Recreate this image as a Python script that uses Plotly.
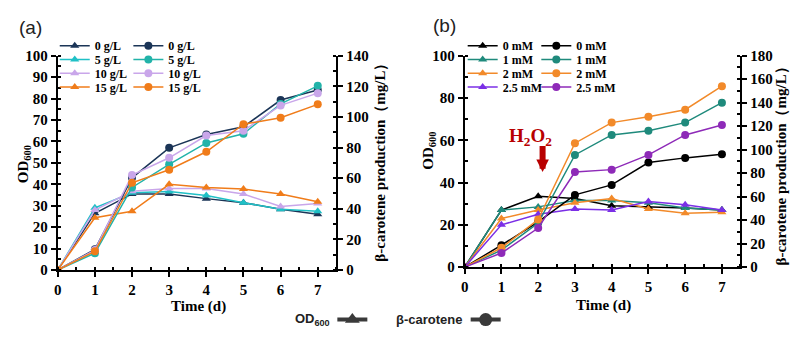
import plotly.graph_objects as go

days = [0, 1, 2, 3, 4, 5, 6, 7]

# Panel (a)
labels_a = ["0 g/L", "5 g/L", "10 g/L", "15 g/L"]
od_a_0 = [0, 26.5, 35.5, 35.5, 33.3, 31.4, 28.4, 26]
od_a_5 = [0, 29, 36, 36.6, 34.8, 31.4, 28.4, 27.4]
od_a_10 = [0, 28, 36.7, 38, 38, 35.5, 29.6, 31]
od_a_15 = [0, 24.4, 27.4, 40, 38.5, 37.8, 35.5, 31.8]
bc_a_0 = [0, 13.5, 60.2, 79.8, 88.5, 93.5, 111, 117.5]
bc_a_5 = [0, 11, 53.9, 69, 83, 89, 108.5, 120.3]
bc_a_10 = [0, 13, 62, 73.3, 87.8, 91, 107.5, 115.5]
bc_a_15 = [0, 12.2, 57, 65.5, 77.2, 95.2, 99.4, 108.2]

# Panel (b)
labels_b = ["0 mM", "1 mM", "2 mM", "2.5 mM"]
od_b_0 = [0, 27, 33.5, 32.5, 29, 28.5, 28, 27]
od_b_1 = [0, 27, 28.5, 31.5, 31.5, 30.5, 28, 27]
od_b_2 = [0, 23, 27, 30.5, 32.5, 27.5, 25.5, 26]
od_b_25 = [0, 20, 25, 27.5, 27, 31, 29.5, 27]
bc_b_0 = [0, 18.7, 38.5, 61.5, 70, 89, 93, 96]
bc_b_1 = [0, 14.5, 37.5, 95.5, 112.5, 116, 123, 140]
bc_b_2 = [0, 16.5, 40.5, 105.5, 123, 128, 134, 154]
bc_b_25 = [0, 12, 33.3, 81, 83, 95.5, 112.5, 121]

# Tick values / labels
ticks_x = [0, 1, 2, 3, 4, 5, 6, 7]
ticks_od_a = [0, 10, 20, 30, 40, 50, 60, 70, 80, 90, 100]
ticks_bc_a = [0, 20, 40, 60, 80, 100, 120, 140]
ticks_od_b = [0, 20, 40, 60, 80, 100]
ticks_bc_b = [0, 20, 40, 60, 80, 100, 120, 140, 160, 180]

cols_a_tri = ["#1b3557", "#1fc0c6", "#c9a6ea", "#f07c1a"]
cols_a_cir = ["#1b3557", "#22b3a9", "#c9a6ea", "#f07c1a"]
cols_b_tri = ["#000000", "#1f8a7c", "#f28a2a", "#7b2fe6"]
cols_b_cir = ["#000000", "#1f8a7c", "#f28a2a", "#8e2ab8"]

SERIF = "Liberation Serif"
SANS = "Liberation Sans"
W, H = 797, 339

od_a = [od_a_0, od_a_5, od_a_10, od_a_15]
bc_a = [bc_a_0, bc_a_5, bc_a_10, bc_a_15]
od_b = [od_b_0, od_b_1, od_b_2, od_b_25]
bc_b = [bc_b_0, bc_b_1, bc_b_2, bc_b_25]

fig = go.Figure()


def lkey(k):
    return "legend" if k == 1 else f"legend{k}"


row_y = [39.5, 54, 68.5, 83]
legend_cols = [51, 125, 461, 535]  # pixel x of legend boxes

legends = {}
k = 1
groups = [
    (labels_a, od_a, cols_a_tri, "triangle-up", "x", "y"),
    (labels_a, bc_a, cols_a_cir, "circle", "x", "y2"),
    (labels_b, od_b, cols_b_tri, "triangle-up", "x2", "y3"),
    (labels_b, bc_b, cols_b_cir, "circle", "x2", "y4"),
]
for gi, (labs, series, cols, sym, xa, ya) in enumerate(groups):
    for i in range(4):
        key = lkey(k)
        fig.add_trace(go.Scatter(
            x=days, y=series[i], name=labs[i], mode="lines+markers",
            line=dict(color=cols[i], width=1.5),
            marker=dict(symbol=sym, size=8, color=cols[i]),
            xaxis=xa, yaxis=ya, legend=key, showlegend=True,
        ))
        legends[key] = dict(
            x=legend_cols[gi] / W, y=(H - row_y[i]) / H,
            xanchor="left", yanchor="middle",
            bgcolor="rgba(0,0,0,0)", borderwidth=0, tracegroupgap=0,
            font=dict(family=SERIF, size=12, color="black", weight="bold"),
            itemclick=False, itemdoubleclick=False,
        )
        k += 1

# bottom legend keys (OD600 / beta-carotene)
for sym, px in [("triangle-up", 330), ("circle", 464)]:
    key = lkey(k)
    fig.add_trace(go.Scatter(
        x=[None], y=[None], name=" ", mode="lines+markers",
        line=dict(color="#3a3a3a", width=4),
        marker=dict(symbol=sym, size=13, color="#3a3a3a"),
        xaxis="x", yaxis="y", legend=key, showlegend=True,
    ))
    legends[key] = dict(
        x=px / W, y=(H - 327) / H, xanchor="left", yanchor="middle",
        bgcolor="rgba(0,0,0,0)", borderwidth=0,
        font=dict(family=SANS, size=12, color="black"),
        itemclick=False, itemdoubleclick=False,
    )
    k += 1

tickfont = dict(family=SERIF, size=15, color="black", weight="bold")


def bold(vals):
    return [f"<b>{v}</b>" for v in vals]


def xaxis_cfg(domain, anchor):
    return dict(
        domain=domain, anchor=anchor, range=[0, 7.5],
        tickvals=ticks_x, ticktext=bold(ticks_x),
        showline=True, linecolor="black", linewidth=2, mirror=False,
        ticks="outside", ticklen=5, tickwidth=2, tickcolor="black",
        minor=dict(dtick=0.5, tick0=0, ticks="inside", ticklen=3, tickwidth=1.5, tickcolor="black"),
        showgrid=False, zeroline=False, tickfont=tickfont,
    )


def yaxis_cfg(domain, anchor, rng, tv, mdtick, side="left", overlaying=None):
    d = dict(
        domain=domain, anchor=anchor, range=rng, tickvals=tv, ticktext=bold(tv), side=side,
        showline=True, linecolor="black", linewidth=2,
        ticks="outside", ticklen=5, tickwidth=2, tickcolor="black",
        minor=dict(dtick=mdtick, tick0=0, ticks="inside", ticklen=3, tickwidth=1.5, tickcolor="black"),
        showgrid=False, zeroline=False, tickfont=tickfont,
    )
    if overlaying:
        d["overlaying"] = overlaying
    return d


xa_dom = [54 / W, 334 / W]
xb_dom = [463 / W, 740 / W]
ya_dom = [(H - 275) / H, (H - 50) / H]
yb_dom = [(H - 272) / H, (H - 50) / H]

fig.update_layout(
    width=W, height=H, margin=dict(l=0, r=0, t=0, b=0),
    paper_bgcolor="white", plot_bgcolor="white",
    xaxis=xaxis_cfg(xa_dom, "y"),
    xaxis2=xaxis_cfg(xb_dom, "y3"),
    yaxis=yaxis_cfg(ya_dom, "x", [0, 100], ticks_od_a, 5),
    yaxis2=yaxis_cfg(ya_dom, "x", [0, 140], ticks_bc_a, 10, side="right", overlaying="y"),
    yaxis3=yaxis_cfg(yb_dom, "x2", [0, 100], ticks_od_b, 10),
    yaxis4=yaxis_cfg(yb_dom, "x2", [0, 180], ticks_bc_b, 10, side="right", overlaying="y3"),
    **legends,
)

title_font = dict(family=SERIF, size=15, color="black", weight="bold")
ann = [
    dict(text="OD<sub>600</sub>", x=20 / W, y=(H - 164) / H, textangle=-90, font=title_font),
    dict(text="β-carotene production（mg/L）", x=377 / W, y=(H - 158) / H, textangle=-90, font=title_font),
    dict(text="OD<sub>600</sub>", x=427 / W, y=(H - 150) / H, textangle=-90, font=title_font),
    dict(text="β-carotene production（mg/L）", x=781 / W, y=(H - 162) / H, textangle=-90, font=title_font),
    dict(text="Time (d)", x=195 / W, y=(H - 313) / H, font=title_font),
    dict(text="Time (d)", x=603 / W, y=(H - 312) / H, font=title_font),
    dict(text="(a)", x=27 / W, y=(H - 20) / H, font=dict(family=SANS, size=19, color="#222")),
    dict(text="(b)", x=443 / W, y=(H - 18) / H, font=dict(family=SANS, size=19, color="#222")),
    dict(text="OD<sub>600</sub>", x=330 / W, y=(H - 327) / H, xanchor="right",
         font=dict(family=SANS, size=13, color="#222", weight="bold")),
    dict(text="β-carotene", x=462 / W, y=(H - 327) / H, xanchor="right",
         font=dict(family=SANS, size=13, color="#222", weight="bold")),
]
for a in ann:
    base = dict(xref="paper", yref="paper", showarrow=False, xanchor="center", yanchor="middle")
    base.update(a)
    fig.add_annotation(**base)

# H2O2 addition marker in panel (b)
fig.add_annotation(text="H<sub>2</sub>O<sub>2</sub>", x=1.78, y=61.5, xref="x2", yref="y3",
                   showarrow=False, font=dict(family=SERIF, size=19, color="#b80000", weight="bold"))
fig.add_annotation(text=" ", x=2.12, y=45, xref="x2", yref="y3", showarrow=True,
                   ax=0, ay=-27, standoff=0, startstandoff=0, borderpad=0,
                   font=dict(size=1),
                   arrowhead=2, arrowwidth=6, arrowsize=0.42, arrowcolor="#b80000")

fig.write_html("out.html", config={"displayModeBar": False},
               post_script="document.body.style.margin='0';document.body.style.overflow='hidden';")
